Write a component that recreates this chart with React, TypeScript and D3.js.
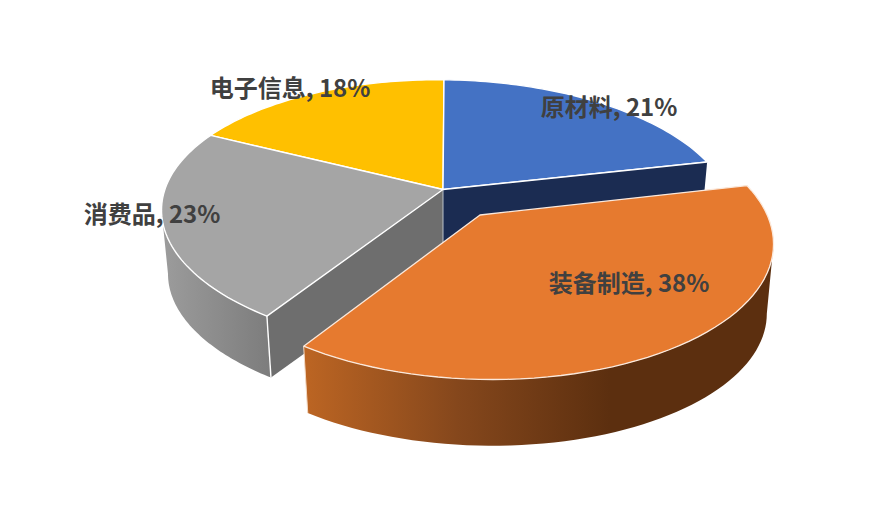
import React from "react";
import * as d3 from "d3";

const categories = ["原材料", "装备制造", "消费品", "电子信息"];
const shares = [21, 38, 23, 18];
const topColors = ["#4472C4", "#E67A2F", "#A5A5A5", "#FFC000"];
const sideColors = ["#1B2C52", "#5C2F0F", "#6E6E6E", "#B98900"];
const labelPos: [number, number][] = [[609, 116], [629, 292], [152, 223], [290, 97]];

type Ring = { ax: number; ay: number; A: number; B: number; ox: number; S: number };
const K = 0.185, M = -0.012;

const project = (r: Ring, t: number): [number, number] => {
  const w = 1 + K * Math.cos(t) + M * Math.sin(t);
  return [r.ax + r.ox + (r.A * Math.sin(t)) / w, r.ay - (r.B * Math.cos(t) + r.S * Math.sin(t)) / w];
};
const lower = (r: Ring, ay: number): Ring => ({ ...r, ay, A: r.A * 0.977, B: r.B * 0.977 });

const main: Ring = { ax: 443, ay: 189.5, A: 281, B: 130, ox: 1, S: -4 };
const mainLow = lower(main, 254);
const burst: Ring = { ax: 480, ay: 215, A: 283, B: 134, ox: 2, S: -3 };
const burstLow = lower(burst, 285);

const line = d3.line();
const sweep = (r: Ring, a0: number, a1: number) =>
  d3.range(0, 61).map((i) => project(r, a0 + ((a1 - a0) * i) / 60));

const slices = d3.pie<number>().sort(null).value((d) => d)(shares);

const sector = (r: Ring, a0: number, a1: number) =>
  line([[r.ax, r.ay], ...sweep(r, a0, a1)])! + "Z";
const wall = (top: Ring, low: Ring, a0: number, a1: number) =>
  line([...sweep(top, a0, a1), ...sweep(low, a0, a1).reverse()])! + "Z";
const extreme = (r: Ring, a0: number, a1: number, sign: number) => {
  const angles = d3.range(0, 121).map((i) => a0 + ((a1 - a0) * i) / 120);
  return angles[d3.scan(angles, (p, q) => sign * (project(r, q)[0] - project(r, p)[0]))!];
};

export default function App() {
  const [blue, orange, grey, yellow] = slices;
  const greyLeft = extreme(main, grey.startAngle, grey.endAngle, -1);
  const orangeRight = extreme(burst, orange.startAngle, orange.endAngle, 1);
  const bCorner = project(main, blue.endAngle);
  const bCornerLow = project(mainLow, blue.endAngle);
  const gCorner = project(main, grey.startAngle);
  const gCornerLow = project(mainLow, grey.startAngle);
  const oCorner = project(burst, orange.endAngle);
  const oCornerLow = project(burstLow, orange.endAngle);
  const stroke = { stroke: "#fff", strokeWidth: 1.4, strokeLinejoin: "round" as const };
  return (
    <svg
      width={887}
      height={514}
      viewBox="0 0 887 514"
      style={{ position: "absolute", left: 0, top: 0, background: "#fff" }}
    >
      <defs>
        <linearGradient id="gw" gradientUnits="userSpaceOnUse" x1={162} x2={272} y1={0} y2={0}>
          <stop offset="0" stopColor="#9C9C9C" />
          <stop offset="1" stopColor="#7C7C7C" />
        </linearGradient>
        <linearGradient id="ow" gradientUnits="userSpaceOnUse" x1={305} x2={610} y1={0} y2={0}>
          <stop offset="0" stopColor="#BC6523" />
          <stop offset="0.5" stopColor="#85471C" />
          <stop offset="1" stopColor="#5C2F0F" />
        </linearGradient>
      </defs>

      <path d={sector(main, yellow.startAngle, yellow.endAngle)} fill={topColors[3]} {...stroke} />
      <path d={sector(main, blue.startAngle, blue.endAngle)} fill={topColors[0]} {...stroke} />
      <path
        d={line([[main.ax, main.ay], bCorner, bCornerLow, [mainLow.ax, mainLow.ay]])! + "Z"}
        fill={sideColors[0]}
      />
      <path d={wall(main, mainLow, grey.startAngle, greyLeft)} fill="url(#gw)" />
      <path
        d={line([[main.ax, main.ay], gCorner, gCornerLow, [mainLow.ax, mainLow.ay]])! + "Z"}
        fill={sideColors[2]}
      />
      <path d={line([gCorner, gCornerLow])!} {...stroke} fill="none" />
      <path d={line([[main.ax, main.ay], [mainLow.ax, mainLow.ay]])!} stroke="#B9C0C8" strokeWidth={1} fill="none" />
      <path d={sector(main, grey.startAngle, grey.endAngle)} fill={topColors[2]} {...stroke} />
      <path d={line([[main.ax, main.ay], bCorner])!} {...stroke} fill="none" />

      <path d={wall(burst, burstLow, orangeRight, orange.endAngle)} fill="url(#ow)" />
      <path d={line([oCorner, oCornerLow])!} stroke="#F3D9C4" strokeWidth={1} fill="none" />
      <path
        d={sector(burst, orange.startAngle, orange.endAngle)}
        fill={topColors[1]}
        stroke="#FBE9DC"
        strokeWidth={1.3}
        strokeLinejoin="round"
      />

      {slices.map((s, i) => (
        <text
          key={categories[i]}
          x={labelPos[i][0]}
          y={labelPos[i][1]}
          textAnchor="middle"
          fontFamily="'Noto Sans CJK SC', 'Noto Sans', sans-serif"
          fontWeight={700}
          fontSize={24}
          fill="#404040"
        >
          {`${categories[i]}, ${s.value}%`}
        </text>
      ))}
    </svg>
  );
}
